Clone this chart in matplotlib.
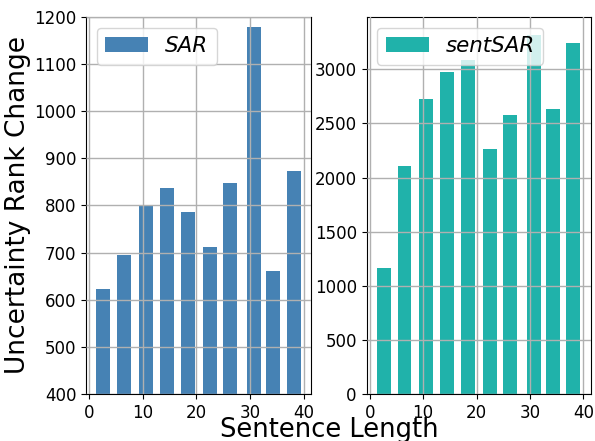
import matplotlib.pyplot as plt
import numpy as np

# bin centres (sentence length)
lengths = [2.6, 6.5, 10.6, 14.5, 18.4, 22.6, 26.2, 30.7, 34.25, 38.15]
sar = [623, 695, 801, 837, 786, 712, 848, 1179, 661, 873]
sent_sar = [1163, 2105, 2724, 2973, 3084, 2262, 2576, 3318, 2632, 3241]

fig = plt.figure(figsize=(5.95, 4.41), dpi=100)
ax1 = fig.add_axes([0.1445, 0.1066, 0.378, 0.855])
ax2 = fig.add_axes([0.616, 0.1066, 0.3765, 0.855])

ax1.bar(lengths, sar, width=2.6, color='steelblue', label='SAR')
ax1.set_ylim(400, 1200)
ax1.set_ylabel('Uncertainty Rank Change', fontsize=19, labelpad=2)

ax2.bar(lengths, sent_sar, width=2.6, color='lightseagreen', label='sentSAR')

for ax in (ax1, ax2):
    ax.set_axisbelow(False)
    ax.grid(True, color='#b0b0b0', linewidth=1)
    ax.tick_params(labelsize=12)
    ax.set_xticks([0, 10, 20, 30, 40])
    ax.legend(loc='upper left', prop={'size': 15.4, 'style': 'italic'})

fig.text(0.553, 0.008, 'Sentence Length', fontsize=18.5, ha='center', va='baseline')

fig.savefig('out.png', dpi=100)
